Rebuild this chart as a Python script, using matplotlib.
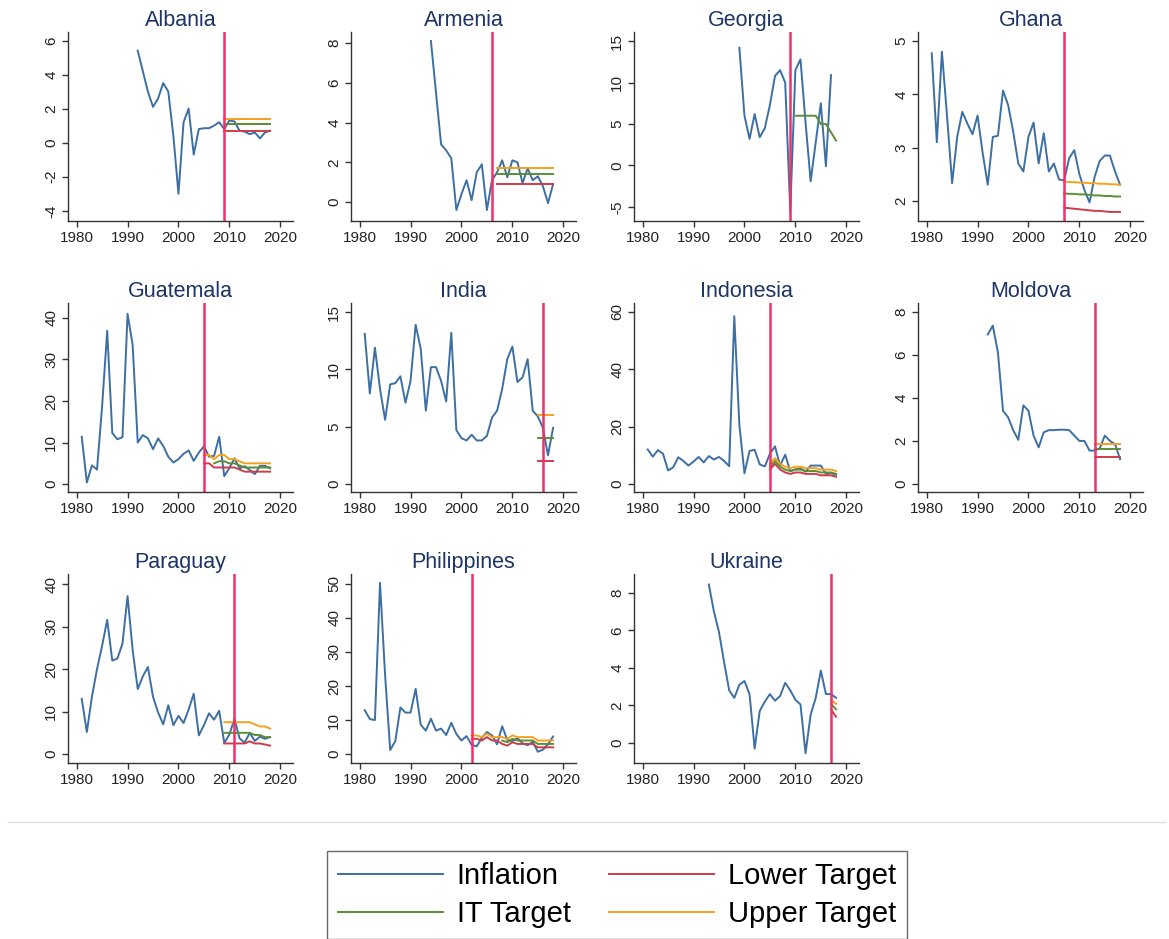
import numpy as np
import matplotlib
matplotlib.use("Agg")
import matplotlib.pyplot as plt
from matplotlib.lines import Line2D

plt.rcParams['font.family'] = ['Liberation Sans', 'DejaVu Sans']

####################################################################################################################
# Data

countries = ["Albania", "Armenia", "Georgia", "Ghana", "Guatemala", "India",
             "Indonesia", "Moldova", "Paraguay", "Philippines", "Ukraine"]

# year the IT regime starts (vertical line)
it_start = [2009, 2006, 2009, 2007, 2005, 2016, 2005, 2013, 2011, 2002, 2017]

# inflation series: first year + yearly values
alb_first = 1992
alb_infl = [5.4, 4.2, 3.0, 2.1, 2.6, 3.5, 3.0, 0.4, -3.0, 1.2, 2.0, -0.7, 0.8, 0.85, 0.85, 1.0,
            1.2, 0.8, 1.3, 1.25, 0.7, 0.65, 0.5, 0.6, 0.25, 0.6, 0.7]
arm_first = 1994
arm_infl = [8.1, 5.5, 2.9, 2.6, 2.2, -0.4, 0.4, 1.1, 0.1, 1.5, 1.9, -0.4, 1.1, 1.5, 2.1, 1.25,
            2.1, 2.0, 0.95, 1.7, 1.1, 1.3, 0.8, -0.05, 0.9]
geo_first = 1999
geo_infl = [14.2, 6.0, 3.2, 6.2, 3.4, 4.5, 7.3, 10.8, 11.5, 10.0, -5.5, 11.5, 12.8, 5.2, -1.9,
            2.8, 7.5, -0.1, 10.9]
gha_first = 1981
gha_infl = [4.77, 3.1, 4.8, 3.6, 2.33, 3.2, 3.67, 3.45, 3.25, 3.6, 2.9, 2.3, 3.2, 3.22, 4.07, 3.8,
            3.3, 2.7, 2.55, 3.2, 3.47, 2.7, 3.27, 2.55, 2.7, 2.4, 2.38, 2.8, 2.95, 2.5, 2.2, 1.97,
            2.45, 2.75, 2.85, 2.85, 2.55, 2.3]
gua_first = 1981
gua_infl = [11.4, 0.4, 4.5, 3.5, 18.7, 36.9, 12.3, 10.8, 11.3, 41.0, 33.5, 10.0, 11.8, 11.0, 8.4,
            11.0, 9.2, 6.6, 5.2, 6.0, 7.3, 8.1, 5.6, 7.6, 9.1, 6.6, 6.8, 11.4, 1.9, 3.9, 6.2, 3.8,
            4.3, 3.4, 2.4, 4.4, 4.4, 3.8]
ind_first = 1981
ind_infl = [13.1, 7.9, 11.9, 8.3, 5.6, 8.7, 8.8, 9.4, 7.1, 9.0, 13.9, 11.8, 6.4, 10.2, 10.2, 9.0,
            7.2, 13.2, 4.7, 4.0, 3.8, 4.3, 3.8, 3.8, 4.2, 5.8, 6.4, 8.3, 10.9, 12.0, 8.9, 9.3, 10.9,
            6.4, 5.9, 4.9, 2.5, 4.9]
idn_first = 1981
idn_infl = [12.0, 9.5, 11.8, 10.5, 4.7, 5.8, 9.3, 8.0, 6.4, 7.8, 9.4, 7.5, 9.7, 8.5, 9.4, 8.0, 6.2,
            58.4, 20.5, 3.7, 11.5, 11.9, 6.8, 6.1, 10.5, 13.1, 6.4, 10.2, 4.4, 5.1, 5.4, 4.3, 6.4,
            6.4, 6.4, 3.5, 3.8, 3.2]
mda_first = 1992
mda_infl = [6.94, 7.35, 6.1, 3.4, 3.1, 2.5, 2.05, 3.65, 3.4, 2.25, 1.7, 2.4, 2.5, 2.5, 2.52, 2.52,
            2.5, 2.25, 2.0, 2.0, 1.55, 1.55, 1.65, 2.25, 2.0, 1.85, 1.15]
pry_first = 1981
pry_infl = [13.0, 5.2, 13.5, 20.0, 25.5, 31.6, 22.0, 22.5, 26.0, 37.2, 24.5, 15.3, 18.3, 20.5, 13.5,
            9.8, 7.0, 11.5, 6.8, 9.0, 7.3, 10.5, 14.2, 4.4, 6.8, 9.6, 8.1, 10.2, 2.6, 4.6, 8.3, 3.7,
            2.7, 5.0, 3.1, 4.1, 3.6, 4.0]
phl_first = 1981
phl_infl = [12.9, 10.3, 10.0, 50.3, 23.1, 1.2, 3.8, 13.7, 12.2, 12.2, 19.2, 8.6, 6.9, 10.4, 6.9,
            7.5, 5.6, 9.2, 5.9, 4.0, 5.3, 2.7, 2.3, 4.8, 6.5, 5.5, 2.9, 8.2, 4.2, 3.8, 4.7, 3.2, 2.6,
            3.6, 0.7, 1.3, 2.9, 5.2]
ukr_first = 1993
ukr_infl = [8.44, 7.0, 5.9, 4.3, 2.8, 2.4, 3.1, 3.3, 2.6, -0.3, 1.7, 2.2, 2.6, 2.25, 2.5, 3.2, 2.8,
            2.3, 2.05, -0.55, 1.5, 2.4, 3.85, 2.6, 2.6, 2.4]

# targets: first year + lower / IT / upper values (None = not shown)
alb_tfirst = 2009
alb_low = [0.69] * 10
alb_it = [1.10] * 10
alb_up = [1.39] * 10
arm_tfirst = 2007
arm_low = [0.92] * 12
arm_it = [1.39] * 12
arm_up = [1.70] * 12
geo_tfirst = 2010
geo_it = [6.0, 6.0, 6.0, 6.0, 6.0, 5.0, 5.0, 4.0, 3.0]
gha_tfirst = 2007
gha_low = [1.87, 1.86, 1.85, 1.84, 1.83, 1.82, 1.81, 1.81, 1.80, 1.79, 1.79, 1.79]
gha_it = [2.14, 2.13, 2.13, 2.12, 2.12, 2.11, 2.10, 2.10, 2.09, 2.09, 2.08, 2.08]
gha_up = [2.36, 2.35, 2.35, 2.34, 2.34, 2.33, 2.33, 2.32, 2.32, 2.31, 2.31, 2.30]
gua_tfirst = 2005
gua_low = [5.0, 5.0, 4.0, 4.0, 4.0, 4.0, 4.0, 3.5, 3.0, 3.0, 3.0, 3.0, 3.0, 3.0]
gua_it = [None, None, 5.0, 5.5, 5.5, 5.0, 5.0, 4.5, 4.0, 4.0, 4.0, 4.0, 4.0, 4.0]
gua_up = [7.0, 7.0, 6.0, 7.0, 7.0, 6.0, 6.0, 5.5, 5.0, 5.0, 5.0, 5.0, 5.0, 5.0]
ind_tfirst = 2015
ind_low = [2.0] * 4
ind_it = [4.0] * 4
ind_up = [6.0] * 4
idn_tfirst = 2005
idn_low = [5.0, 7.0, 5.0, 4.0, 3.5, 4.0, 4.0, 3.5, 3.5, 3.5, 3.0, 3.0, 3.0, 2.5]
idn_it = [6.0, 8.0, 6.0, 5.0, 4.5, 5.0, 5.0, 4.5, 4.5, 4.5, 4.0, 4.0, 4.0, 3.5]
idn_up = [7.0, 9.0, 7.0, 6.0, 5.5, 6.0, 6.0, 5.5, 5.5, 5.5, 5.0, 5.0, 5.0, 4.5]
mda_tfirst = 2013
mda_low = [1.25] * 6
mda_it = [1.61] * 6
mda_up = [1.87] * 6
pry_tfirst = 2009
pry_low = [2.5, 2.5, 2.5, 2.5, 2.5, 3.0, 2.5, 2.5, 2.25, 2.0]
pry_it = [5.0, 5.0, 5.0, 5.0, 5.0, 5.0, 4.5, 4.5, 4.0, 4.0]
pry_up = [7.5, 7.5, 7.5, 7.5, 7.5, 7.5, 7.0, 6.5, 6.5, 6.0]
phl_tfirst = 2002
phl_low = [4.5, 4.5, 4.0, 5.0, 4.0, 4.0, 3.0, 2.5, 3.5, 3.0, 3.0, 3.0, 3.0, 2.0, 2.0, 2.0, 2.0]
phl_it = [None, None, None, None, None, None, 4.0, 3.5, 4.5, 4.0, 4.0, 4.0, 4.0, 3.0, 3.0, 3.0, 3.0]
phl_up = [5.5, 5.5, 5.0, 6.0, 5.0, 5.0, 5.0, 4.5, 5.5, 5.0, 5.0, 5.0, 5.0, 4.0, 4.0, 4.0, 4.0]
ukr_tfirst = 2017
ukr_low = [1.79, 1.39]
ukr_it = [2.08, 1.79]
ukr_up = [2.30, 2.08]

# y axis ranges and ticks per panel
ylims = [(-4.6, 6.5), (-0.95, 8.55), (-6.7, 16.1), (1.62, 5.17), (-1.9, 43.6), (-0.7, 15.8),
         (-2.8, 63.0), (-0.37, 8.4), (-2.1, 42.4), (-2.6, 52.9), (-1.07, 9.0)]
yticks = [np.arange(-4, 7, 2), np.arange(0, 9, 2), np.arange(-5, 16, 5), np.arange(2, 6, 1),
          np.arange(0, 41, 10), np.arange(0, 16, 5), np.arange(0, 61, 20), np.arange(0, 9, 2),
          np.arange(0, 41, 10), np.arange(0, 51, 10), np.arange(0, 9, 2)]
xticks = [1980, 1990, 2000, 2010, 2020]

####################################################################################################################
# Styles

c_infl = '#3d6fa3'
c_low = '#cc3d4b'
c_it = '#5a8f35'
c_up = '#f5a01f'
c_vline = '#f0306a'
c_title = '#1c3466'

infl = [(alb_first, alb_infl), (arm_first, arm_infl), (geo_first, geo_infl), (gha_first, gha_infl),
        (gua_first, gua_infl), (ind_first, ind_infl), (idn_first, idn_infl), (mda_first, mda_infl),
        (pry_first, pry_infl), (phl_first, phl_infl), (ukr_first, ukr_infl)]
targets = [(alb_tfirst, alb_low, alb_it, alb_up), (arm_tfirst, arm_low, arm_it, arm_up),
           (geo_tfirst, None, geo_it, None), (gha_tfirst, gha_low, gha_it, gha_up),
           (gua_tfirst, gua_low, gua_it, gua_up), (ind_tfirst, ind_low, ind_it, ind_up),
           (idn_tfirst, idn_low, idn_it, idn_up), (mda_tfirst, mda_low, mda_it, mda_up),
           (pry_tfirst, pry_low, pry_it, pry_up), (phl_tfirst, phl_low, phl_it, phl_up),
           (ukr_tfirst, ukr_low, ukr_it, ukr_up)]

W, H = 1169, 939
fig = plt.figure(figsize=(W / 100, H / 100), dpi=100)

col_left = [68, 351, 634, 918]
row_top = [32, 303, 574]
ax_w, ax_h = 225, 189


def series(first, vals):
    yrs = np.arange(first, first + len(vals))
    v = np.array([np.nan if x is None else x for x in vals], dtype=float)
    return yrs, v


for i, name in enumerate(countries):
    r, c = divmod(i, 4)
    ax = fig.add_axes([col_left[c] / W, 1 - (row_top[r] + ax_h) / H, ax_w / W, ax_h / H])

    yrs, v = series(*infl[i])
    ax.plot(yrs, v, color=c_infl, lw=1.4)

    tf, lo, it, up = targets[i]
    for vals, col in [(lo, c_low), (it, c_it), (up, c_up)]:
        if vals is not None:
            ty, tv = series(tf, vals)
            ax.plot(ty, tv, color=col, lw=1.4)

    ax.axvline(it_start[i], color=c_vline, lw=1.8)

    ax.set_xlim(1978.3, 2022.5)
    ax.set_ylim(*ylims[i])
    ax.set_xticks(xticks)
    ax.set_yticks(yticks[i])
    ax.set_yticklabels([str(t) for t in yticks[i]], rotation=90, va='center')
    for s in ['top', 'right']:
        ax.spines[s].set_visible(False)
    for s in ['left', 'bottom']:
        ax.spines[s].set_color('#333333')
        ax.spines[s].set_linewidth(1.0)
    ax.tick_params(direction='out', length=4, width=1, color='#333333', labelsize=11,
                   labelcolor='#222222')
    ax.tick_params(axis='y', pad=3)
    ax.tick_params(axis='x', pad=3)
    ax.set_title(name, fontsize=15.5, color=c_title, pad=4)

# separator line
fig.add_artist(Line2D([8 / W, 1165 / W], [1 - 822 / H, 1 - 822 / H], color='#dddddd', lw=1))

handles = [Line2D([], [], color=c_infl, lw=1.4), Line2D([], [], color=c_it, lw=1.4),
           Line2D([], [], color=c_low, lw=1.4), Line2D([], [], color=c_up, lw=1.4)]
labels = ["Inflation", "IT Target", "Lower Target", "Upper Target"]
leg = fig.legend(handles, labels, ncol=2, loc='upper left',
                 bbox_to_anchor=(327 / W, 1 - 851 / H), fontsize=21, frameon=True,
                 fancybox=False, edgecolor='#444444', handlelength=3.6, handletextpad=0.48,
                 columnspacing=1.3, borderpad=0.37, labelspacing=0.35, borderaxespad=0)
leg.get_frame().set_linewidth(1.0)

fig.savefig("out.png", dpi=100)
